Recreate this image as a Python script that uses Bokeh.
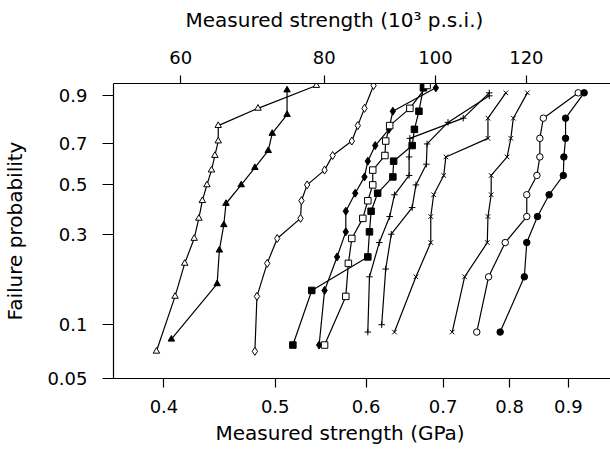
import numpy as np
from bokeh.plotting import figure
from bokeh.models import (Range1d, LogAxis, LogScale, FixedTicker, Title,
                          PrintfTickFormatter, CustomJSTickFormatter)
from bokeh.embed import file_html
from bokeh.resources import INLINE

# ---------------- data (strength in GPa, failure probability) ----------------
s_open_tri = [0.394, 0.409, 0.417, 0.425, 0.429, 0.432, 0.436, 0.440, 0.443, 0.446, 0.446, 0.483, 0.543]
p_open_tri = [0.071, 0.143, 0.214, 0.286, 0.357, 0.429, 0.500, 0.571, 0.643, 0.714, 0.786, 0.857, 0.929]

s_fill_tri = [0.406, 0.445, 0.447, 0.451, 0.453, 0.467, 0.480, 0.493, 0.497, 0.512, 0.512]
p_fill_tri = [0.083, 0.167, 0.250, 0.333, 0.417, 0.500, 0.583, 0.667, 0.750, 0.833, 0.917]

s_open_dia = [0.480, 0.482, 0.492, 0.502, 0.526, 0.527, 0.533, 0.552, 0.561, 0.583, 0.590, 0.598, 0.609]
p_open_dia = [0.071, 0.143, 0.214, 0.286, 0.357, 0.429, 0.500, 0.571, 0.643, 0.714, 0.786, 0.857, 0.929]

s_fill_sq = [0.518, 0.538, 0.602, 0.604, 0.606, 0.614, 0.633, 0.634, 0.658, 0.661, 0.667, 0.673]
p_fill_sq = [0.077, 0.154, 0.231, 0.308, 0.385, 0.462, 0.538, 0.615, 0.692, 0.769, 0.846, 0.923]

s_fill_dia = [0.546, 0.552, 0.566, 0.576, 0.576, 0.587, 0.598, 0.602, 0.611, 0.628, 0.633, 0.690]
p_fill_dia = [0.077, 0.154, 0.231, 0.308, 0.385, 0.462, 0.538, 0.615, 0.692, 0.769, 0.846, 0.923]

s_open_sq = [0.552, 0.576, 0.579, 0.583, 0.596, 0.602, 0.608, 0.608, 0.623, 0.624, 0.629, 0.655, 0.678]
p_open_sq = [0.077, 0.143, 0.214, 0.286, 0.357, 0.429, 0.500, 0.571, 0.643, 0.714, 0.786, 0.857, 0.929]

s_plus_a = [0.602, 0.604, 0.616, 0.629, 0.635, 0.654, 0.654, 0.655, 0.729, 0.768]
p_plus_a = [0.091, 0.182, 0.273, 0.364, 0.455, 0.545, 0.636, 0.727, 0.818, 0.909]

s_plus_b = [0.619, 0.624, 0.631, 0.658, 0.663, 0.677, 0.678, 0.707, 0.768]
p_plus_b = [0.100, 0.200, 0.300, 0.400, 0.500, 0.600, 0.700, 0.800, 0.900]

s_x_a = [0.635, 0.663, 0.683, 0.683, 0.687, 0.701, 0.704, 0.766, 0.766, 0.794]
p_x_a = [0.091, 0.182, 0.273, 0.364, 0.455, 0.545, 0.636, 0.727, 0.818, 0.909]

s_x_b = [0.713, 0.731, 0.765, 0.766, 0.771, 0.771, 0.796, 0.802, 0.806, 0.829]
p_x_b = [0.091, 0.182, 0.273, 0.364, 0.455, 0.545, 0.636, 0.727, 0.818, 0.909]

s_open_circ = [0.749, 0.767, 0.793, 0.828, 0.828, 0.845, 0.850, 0.850, 0.856, 0.918]
p_open_circ = [0.091, 0.182, 0.273, 0.364, 0.455, 0.545, 0.636, 0.727, 0.818, 0.909]

s_fill_circ = [0.785, 0.824, 0.828, 0.846, 0.866, 0.891, 0.892, 0.895, 0.895, 0.929]
p_fill_circ = [0.091, 0.182, 0.273, 0.364, 0.455, 0.545, 0.636, 0.727, 0.818, 0.909]

prob_ticks = [0.05, 0.1, 0.3, 0.5, 0.7, 0.9]
gpa_ticks = [0.4, 0.5, 0.6, 0.7, 0.8, 0.9]
ksi_ticks = [60, 80, 100, 120]
GPA_TO_KSI = 145.038


def weibull(F):
    F = np.asarray(F, dtype=float)
    return np.log(-np.log(1.0 - F))


x0, x1 = 0.3615, 0.9794
FONT = "DejaVu Sans"

p = figure(width=610, height=449, x_axis_type="log",
           x_range=Range1d(x0, x1), y_range=Range1d(-2.975, 1.0),
           output_backend="svg", toolbar_location=None,
           min_border_left=111, min_border_right=0,
           min_border_top=83, min_border_bottom=71)
p.grid.visible = False
p.outline_line_color = None
p.background_fill_color = "white"
p.border_fill_color = "white"

# bottom axis
xa = p.xaxis[0]
xa.ticker = FixedTicker(ticks=gpa_ticks, minor_ticks=[])
xa.formatter = PrintfTickFormatter(format="%.1f")

# left axis
ya = p.yaxis[0]
ya.ticker = FixedTicker(ticks=list(weibull(prob_ticks)), minor_ticks=[])
ya.formatter = CustomJSTickFormatter(code="""
const F = 1 - Math.exp(-Math.exp(tick));
return F < 0.095 ? F.toFixed(2) : F.toFixed(1);
""")
ya.axis_label = "Failure probability"

# top axis in 10^3 psi
p.extra_x_ranges = {"ksi": Range1d(x0 * GPA_TO_KSI, x1 * GPA_TO_KSI)}
p.extra_x_scales = {"ksi": LogScale()}
ta = LogAxis(x_range_name="ksi", ticker=FixedTicker(ticks=ksi_ticks, minor_ticks=[]),
             formatter=PrintfTickFormatter(format="%d"))
p.add_layout(ta, "above")

for ax in (xa, ya, ta):
    ax.axis_line_color = "black"
    ax.axis_line_width = 1.2
    ax.major_tick_line_color = "black"
    ax.major_tick_line_width = 1.2
    ax.major_tick_in = 0
    ax.minor_tick_line_color = None
    ax.major_label_text_font = FONT
    ax.major_label_text_font_size = "18px"
    ax.major_label_text_color = "black"
    ax.axis_label_text_font = FONT
    ax.axis_label_text_font_size = "20px"
    ax.axis_label_text_font_style = "normal"
    ax.axis_label_text_color = "black"

xa.major_tick_out = 9
xa.major_label_standoff = 12

ya.major_tick_out = 11
ya.major_label_standoff = 15
ya.axis_label_standoff = 17

ta.major_tick_out = 8
ta.major_label_standoff = 12

# small blank spacer between the top axis labels and the top title
p.add_layout(Title(text=" ", text_font_size="7px", text_font=FONT, standoff=6), "above")

# axis titles placed as titles so their horizontal position can follow the original
top_title = Title(text="Measured strength (10\u00b3 p.s.i.)", align="left", offset=72,
                  text_font=FONT, text_font_size="20px", text_font_style="normal",
                  text_color="black", standoff=0)
p.add_layout(top_title, "above")
bottom_title = Title(text="Measured strength (GPa)", align="left", offset=102,
                     text_font=FONT, text_font_size="20px", text_font_style="normal",
                     text_color="black", standoff=6)
p.add_layout(bottom_title, "below")

series = [
    (s_open_tri, p_open_tri, "triangle", "white"),
    (s_fill_tri, p_fill_tri, "triangle", "black"),
    (s_open_dia, p_open_dia, "diamond", "white"),
    (s_fill_sq, p_fill_sq, "square", "black"),
    (s_fill_dia, p_fill_dia, "diamond", "black"),
    (s_open_sq, p_open_sq, "square", "white"),
    (s_plus_a, p_plus_a, "cross", None),
    (s_plus_b, p_plus_b, "cross", None),
    (s_x_a, p_x_a, "x", None),
    (s_x_b, p_x_b, "x", None),
    (s_open_circ, p_open_circ, "circle", "white"),
    (s_fill_circ, p_fill_circ, "circle", "black"),
]

for s, pr, marker, fill in series:
    y = weibull(pr)
    p.line(s, y, line_color="black", line_width=1.2)
    size = 8 if marker == "diamond" else 6.5
    p.scatter(s, y, marker=marker, size=size, line_color="black",
              fill_color=fill if fill else "black", line_width=1)

open("out.html", "w").write(file_html(p, INLINE))
